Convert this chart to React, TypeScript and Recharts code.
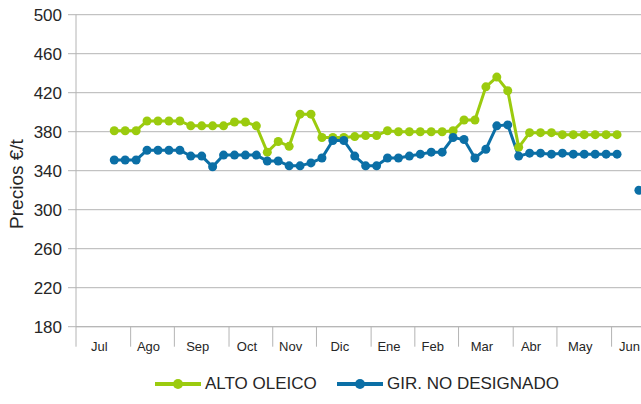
import { LineChart, Line, XAxis, YAxis, CartesianGrid } from "recharts";

const MONTHS = ["Jul", "Ago", "Sep", "Oct", "Nov", "Dic", "Ene", "Feb", "Mar", "Abr", "May", "Jun"];
const WEEKS_PER_MONTH = [5, 4, 5, 4, 4, 5, 4, 4, 5, 4, 5, 4];
const Y_TICKS = [180, 220, 260, 300, 340, 380, 420, 460, 500];

// weekly prices, one entry per week starting first week of July
const ALTO_OLEICO = [
  null, null, null, 381, 381, 381, 391, 391, 391, 391,
  386, 386, 386, 386, 390, 390, 386, 359, 370, 365,
  398, 398, 374, 374, 374, 375, 376, 376, 381, 380,
  380, 380, 380, 380, 381, 392, 392, 426, 436, 422,
  364, 379, 379, 379, 377, 377, 377, 377, 377, 377,
  null, null, null,
];
const GIR_NO_DESIGNADO = [
  null, null, null, 351, 351, 351, 361, 361, 361, 361,
  355, 355, 344, 356, 356, 356, 356, 350, 350, 345,
  345, 348, 353, 371, 371, 355, 345, 345, 353, 353,
  355, 357, 359, 359, 374, 372, 353, 362, 386, 387,
  355, 358, 358, 357, 358, 357, 357, 357, 357, 357,
  null, 320, null,
];

const GREEN = "#9BCB0E";
const BLUE = "#0B6FA6";
const GRID = "#B4B4B4";

const TOTAL_WEEKS = WEEKS_PER_MONTH.reduce((a, b) => a + b, 0);
const BOUNDARIES = WEEKS_PER_MONTH.reduce<number[]>((acc, w) => [...acc, acc[acc.length - 1] + w], [0]);
const MONTH_CENTERS = WEEKS_PER_MONTH.map((w, i) => BOUNDARIES[i] + w / 2);

const data = ALTO_OLEICO.map((v, i) => ({
  x: i + 0.5,
  alto: v,
  gir: GIR_NO_DESIGNADO[i],
}));

function LegendItem({ color, label }: { color: string; label: string }) {
  return (
    <div style={{ display: "flex", alignItems: "center" }}>
      <svg width={46} height={12} style={{ marginRight: 4 }}>
        <line x1={0} y1={6} x2={46} y2={6} stroke={color} strokeWidth={4} />
        <circle cx={23} cy={6} r={5} fill={color} />
      </svg>
      <span style={{ fontSize: 17, color: "#262626" }}>{label}</span>
    </div>
  );
}

export default function App() {
  return (
    <div
      style={{
        position: "fixed",
        left: 0,
        top: 0,
        width: 641,
        height: 404,
        overflow: "hidden",
        background: "#fff",
        fontFamily: "'Liberation Sans', Arial, sans-serif",
      }}
    >
      <LineChart width={660} height={404} data={data} margin={{ top: 14.7, right: 4.7, left: 0, bottom: 46.3 }}>
        <CartesianGrid vertical={false} stroke={GRID} strokeWidth={1} />
        <XAxis
          dataKey="x"
          type="number"
          domain={[0, TOTAL_WEEKS]}
          ticks={BOUNDARIES}
          interval={0}
          tickFormatter={() => ""}
          tickSize={20}
          height={1}
          stroke={GRID}
        />
        <XAxis
          xAxisId="lbl"
          dataKey="x"
          type="number"
          domain={[0, TOTAL_WEEKS]}
          ticks={MONTH_CENTERS}
          interval={0}
          axisLine={false}
          tickLine={false}
          tickSize={0}
          tickMargin={14}
          height={30}
          tick={{ fontSize: 13, fill: "#262626", dx: -4 }}
          tickFormatter={(v: number) => MONTHS[MONTH_CENTERS.indexOf(v)]}
        />
        <YAxis
          domain={[180, 500]}
          ticks={Y_TICKS}
          interval={0}
          width={76}
          tickSize={8}
          tickMargin={6}
          stroke={GRID}
          tick={{ fontSize: 17, fill: "#262626" }}
          label={{
            content: () => (
              <text
                x={16}
                y={184}
                transform="rotate(-90 16 184)"
                textAnchor="middle"
                dominantBaseline="central"
                fontSize={19}
                fill="#262626"
              >
                Precios €/t
              </text>
            ),
          }}
        />
        <Line
          dataKey="alto"
          name="ALTO OLEICO"
          stroke={GREEN}
          strokeWidth={3}
          dot={{ r: 4.5, fill: GREEN, stroke: GREEN, strokeWidth: 0 }}
          activeDot={false}
          isAnimationActive={false}
        />
        <Line
          dataKey="gir"
          name="GIR. NO DESIGNADO"
          stroke={BLUE}
          strokeWidth={3}
          dot={{ r: 4.5, fill: BLUE, stroke: BLUE, strokeWidth: 0 }}
          activeDot={false}
          isAnimationActive={false}
        />
      </LineChart>
      <div style={{ position: "absolute", left: 155, top: 374 }}>
        <LegendItem color={GREEN} label="ALTO OLEICO" />
      </div>
      <div style={{ position: "absolute", left: 337, top: 374 }}>
        <LegendItem color={BLUE} label="GIR. NO DESIGNADO" />
      </div>
    </div>
  );
}
